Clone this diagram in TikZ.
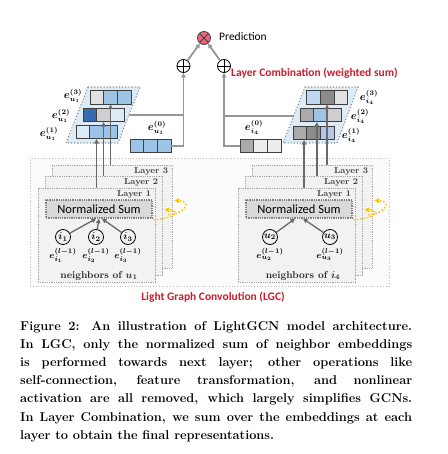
\documentclass[tikz,border=0pt]{standalone}
\usepackage{fontspec}
\newfontfamily\calib{Carlito}
\usetikzlibrary{arrows.meta,calc,positioning}
\definecolor{dblue}{RGB}{56,106,178}
\definecolor{mblue}{RGB}{157,195,230}
\definecolor{sblue}{RGB}{189,215,238}
\definecolor{lblue}{RGB}{222,235,247}
\definecolor{lav}{RGB}{180,199,231}
\definecolor{paraf}{RGB}{221,235,247}
\definecolor{ga}{RGB}{170,170,170}
\definecolor{gb}{RGB}{140,140,140}
\definecolor{gc}{RGB}{208,206,206}
\definecolor{gd}{RGB}{226,226,226}
\definecolor{ge}{RGB}{237,237,237}
\definecolor{linegray}{RGB}{150,150,150}
\definecolor{darkline}{RGB}{105,105,105}
\definecolor{lgcred}{RGB}{200,30,45}
\definecolor{predpink}{RGB}{240,100,125}
\definecolor{loopyel}{RGB}{255,192,0}

\begin{document}
\begin{tikzpicture}[x=1pt,y=-1pt,>={Triangle[length=4.5pt,width=4.5pt]}]
    \tikzstyle{cell}=[rectangle,draw=black!75,line width=0.7pt,minimum width=13.7pt,minimum height=13.5pt,inner sep=0pt]
    \tikzstyle{lgcbox}=[rectangle,draw=black!25,dotted,line width=0.8pt,fill=black!1,minimum width=359pt,minimum height=128pt,inner sep=0pt]
    \tikzstyle{layerbox}=[rectangle,draw=black!35,densely dotted,line width=0.8pt,fill=black!5,inner sep=0pt]
    \tikzstyle{nsbox}=[rectangle,draw=black!50,densely dotted,line width=1.3pt,fill=black!15,minimum width=106pt,minimum height=18pt,inner sep=0pt,font=\calib\fontsize{12.5}{14}\selectfont]
    \tikzstyle{nbr}=[circle,draw=black,line width=0.8pt,minimum size=15pt,inner sep=0pt,font=\boldmath\fontsize{10}{12}\selectfont]
    \tikzstyle{lyr}=[inner sep=0pt,text=black!75,font=\bfseries\fontsize{8.8}{10}\selectfont]
    \tikzstyle{nbrlbl}=[inner sep=0pt,text=black!85,font=\boldmath\bfseries\fontsize{10}{12}\selectfont]
    \tikzstyle{emb}=[inner sep=0pt,font=\boldmath\fontsize{10.5}{12}\selectfont]
    \tikzstyle{nemb}=[inner sep=0pt,font=\boldmath\fontsize{9.5}{11}\selectfont]
    \tikzstyle{para}=[fill=paraf,draw=black!45,dotted,line width=1.1pt]
    \tikzstyle{comb}=[draw=linegray,line width=1.8pt,->]
    \tikzstyle{combline}=[draw=linegray,line width=1.8pt]
    \tikzstyle{feed}=[draw=darkline,line width=1.6pt,->]
    \tikzstyle{agg}=[draw=darkline,line width=1.3pt,->]
    \tikzstyle{yloop}=[draw=loopyel,line width=1.5pt,dotted,->]
    \tikzstyle{redlbl}=[inner sep=0pt,text=lgcred,font=\calib\bfseries\fontsize{11.5}{13}\selectfont]
    \tikzstyle{op}=[circle,draw=black,line width=0.8pt,minimum size=13pt,inner sep=0pt]

    \useasboundingbox (0,0) rectangle (447,454);

    % light graph convolution
    \node[lgcbox] (lgc) at (209.5,222) {};
    \node[redlbl] (lgclbl) at (213,297) {Light Graph Convolution (LGC)};

    \foreach \s/\dx in {u1/0, i4/200} {
        \node[layerbox,minimum width=120pt,minimum height=103pt] (\s-L3) at ({112+\dx},216.5) {};
        \node[layerbox,minimum width=117pt,minimum height=99pt] (\s-L2) at ({103.5+\dx},225.5) {};
        \node[layerbox,minimum width=117pt,minimum height=94pt] (\s-L1) at ({96.5+\dx},235) {};
        \foreach \k in {1,2,3}
            \node[lyr,anchor=north east] at ($(\s-L\k.north east)+(-4,3)$) {Layer \k};
        \node[nsbox] (\s-ns) at ({99+\dx},209) {Normalized Sum};
        \draw[yloop] ($(\s-L1.north east)+(-2,32)$) .. controls +(19,0) and +(18,1) .. ($(\s-L2.north east)+(2,34)$);
        \draw[yloop] ($(\s-L2.north east)+(6,39)$) .. controls +(20,-2) and +(16,0) .. ($(\s-L3.north east)+(2,36)$);
    }

    % neighbors
    \foreach \n/\x in {1/63, 2/96, 3/128} {
        \node[nbr] (i\n) at (\x,237) {$i_\n$};
        \node[nemb,below=3pt of i\n] (ei\n) {$e^{(l-1)}_{i_\n}$};
    }
    \foreach \n/\x in {2/270, 3/330} {
        \node[nbr] (u\n) at (\x,237) {$u_\n$};
        \node[nemb,below=3pt of u\n] (eu\n) {$e^{(l-1)}_{u_\n}$};
    }
    \draw[agg] (i1) -- ([xshift=-3pt]u1-ns.south);
    \draw[agg] (i2) -- (u1-ns.south);
    \draw[agg] (i3) -- ([xshift=3pt]u1-ns.south);
    \draw[agg] (u2) -- ([xshift=-4pt]i4-ns.south);
    \draw[agg] (u3) -- ([xshift=4pt]i4-ns.south);
    \node[nbrlbl] (nu1) at (99,276) {neighbors of $u_1$};
    \node[nbrlbl] (ni4) at (303,276) {neighbors of $i_4$};

    % layer embeddings
    \filldraw[para] (88,87) -- (140,87) -- (118,143) -- (66,143) -- cycle;
    \filldraw[para] (305,87) -- (358,87) -- (337,143) -- (283,143) -- cycle;
    \foreach \nm/\xo/\yo/\ca/\cb/\cc in {u1r3/90/97.5/gd/mblue/mblue, u1r2/83/115/dblue/gc/lblue,
            u1r1/76/132/lblue/mblue/mblue, u1e0/130/146/mblue/mblue/mblue,
            i4r3/306.5/97.5/sblue/gb/gd, i4r2/300/115/ga/mblue/gc,
            i4r1/293/133/ga/gb/lav, i4e0/240/146/ga/ge/ge}
        \foreach \c [count=\k] in {\ca,\cb,\cc}
            \node[cell,fill=\c] (\nm-\k) at ({\xo+13.7*(\k-0.5)},\yo) {};

    \node[emb] (lu3) at (73,96) {$e^{(3)}_{u_1}$};
    \node[emb] (lu2) at (61,116) {$e^{(2)}_{u_1}$};
    \node[emb] (lu1) at (49,134) {$e^{(1)}_{u_1}$};
    \node[emb] (lu0) at (157,128) {$e^{(0)}_{u_1}$};
    \node[emb] (li3) at (369,97) {$e^{(3)}_{i_4}$};
    \node[emb] (li2) at (360,116) {$e^{(2)}_{i_4}$};
    \node[emb] (li1) at (351,135) {$e^{(1)}_{i_4}$};
    \node[emb] (li0) at (254,127) {$e^{(0)}_{i_4}$};

    \draw[feed] (u1-L1.north -| u1r1-2) -- (u1r1-2.south);
    \draw[feed] (u1-L2.north -| u1r2-2) -- (u1r2-2.south);
    \draw[feed] (u1-L3.north -| u1r3-2) -- (u1r3-2.south);
    \coordinate (i4f1) at ([xshift=-3pt]i4r1-1.south east);
    \coordinate (i4f2) at ([xshift=3.5pt]i4r2-2.south west);
    \draw[feed] (i4-L1.north -| i4f1) -- (i4f1);
    \draw[feed] (i4-L2.north -| i4f2) -- (i4f2);
    \draw[feed] (i4-L3.north -| i4r3-2) -- (i4r3-2.south);

    % layer combination
    \node[op] (plusL) at (183.5,66) {};
    \node[op] (plusR) at (224,66) {};
    \draw (plusL.north) -- (plusL.south) (plusL.west) -- (plusL.east);
    \draw (plusR.north) -- (plusR.south) (plusR.west) -- (plusR.east);
    \node[op,fill=predpink,draw=black!75] (pred) at (204,38) {};
    \draw[black!75,line width=0.8pt] (pred.north west) -- (pred.south east) (pred.north east) -- (pred.south west);
    \node[anchor=west,inner sep=0pt,font=\calib\fontsize{11.5}{13}\selectfont] (predlbl) at (219,37) {Prediction};
    \node[redlbl,anchor=west] (comblbl) at (231,73) {Layer Combination (weighted sum)};

    \draw[comb] (plusL) -- (pred);
    \draw[comb] (plusR) -- (pred);
    \draw[comb] (u1e0-3.east) -| (plusL);
    \draw[comb] (i4e0-1.west) -| (plusR);
    \coordinate (u1edge) at (129,115);
    \coordinate (i4edge) at (294,116);
    \draw[combline] (u1edge) -- (u1edge -| plusL);
    \draw[combline] (i4edge) -- (i4edge -| plusR);

    % caption
    \node[anchor=base west,text width=392pt,align=justify,inner sep=0pt,font=\bfseries\fontsize{12.8}{18.2}\selectfont] (cap) at (20,330) {Figure 2: An illustration of LightGCN model architecture.\linebreak
In LGC, only the normalized sum of neighbor embeddings\linebreak
is performed towards next layer; other operations like\linebreak
self-connection, feature transformation, and nonlinear\linebreak
activation are all removed, which largely simplifies GCNs.\linebreak
In Layer Combination, we sum over the embeddings at each\linebreak
layer to obtain the final representations.};
\end{tikzpicture}
\end{document}
